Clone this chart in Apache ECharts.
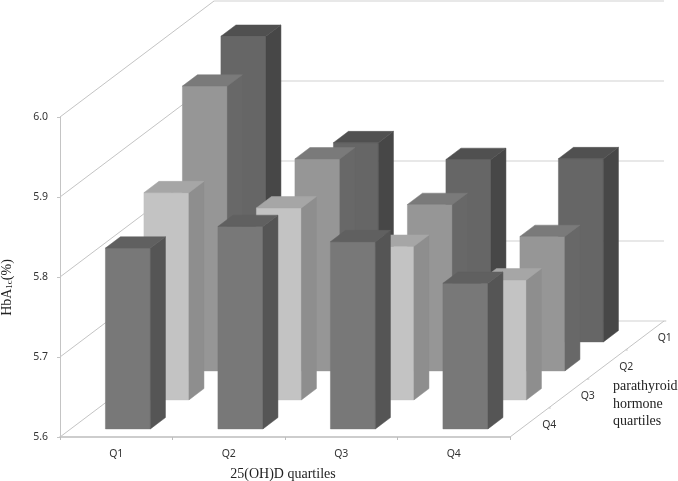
<!DOCTYPE html>
<html><head><meta charset="utf-8">
<style>html,body{margin:0;padding:0;background:#fff}#c{width:678px;height:481px}</style>
<script src="https://cdn.jsdelivr.net/npm/echarts@6/dist/echarts.min.js"></script>
</head><body><div id="c"></div>
<script>
var vitaminCats = ['Q1','Q2','Q3','Q4'];
var pthCats = ['Q1','Q2','Q3','Q4'];
var yTicks = [5.6,5.7,5.8,5.9,6.0];
// HbA1c by 25(OH)D quartile for each parathyroid hormone quartile
var pthQ1 = [5.982,5.849,5.828,5.829];
var pthQ2 = [5.956,5.865,5.808,5.768];
var pthQ3 = [5.859,5.840,5.792,5.750];
var pthQ4 = [5.826,5.853,5.834,5.782];

var rows = [
  {vals:pthQ1, depth:3, face:'#666666', side:'#474747', top:'#505050'},
  {vals:pthQ2, depth:2, face:'#969696', side:'#686868', top:'#7a7a7a'},
  {vals:pthQ3, depth:1, face:'#c3c3c3', side:'#8e8e8e', top:'#a6a6a6'},
  {vals:pthQ4, depth:0, face:'#787878', side:'#555555', top:'#606060'}
];
var SHEAR_X = 38.5/112.5, SHEAR_Y = 29/800;
var BASE = yTicks[0];
function proj(api,c,d,v){ return api.coord([c+d*SHEAR_X, v+d*SHEAR_Y]); }
function poly(pts,color){ return {type:'polygon',shape:{points:pts},style:{fill:color,stroke:color,lineWidth:0.5}}; }
function seg(a,b,color,w){ return {type:'line',shape:{x1:a[0],y1:a[1],x2:b[0],y2:b[1]},style:{stroke:color,lineWidth:w||1,fill:null}}; }

function barSeries(row){
  return {type:'custom',xAxisIndex:1,yAxisIndex:0,silent:true,encode:{x:0,y:1},
    data:row.vals.map(function(v,i){return [i,v];}),
    renderItem:function(p,api){
      var c=api.value(0), v=api.value(1);
      var c0=c+0.308,c1=c+0.708,d0=row.depth+0.28,d1=row.depth+0.67;
      var a=proj(api,c0,d0,BASE),b=proj(api,c1,d0,BASE),
          e=proj(api,c1,d0,v),f=proj(api,c0,d0,v),
          g=proj(api,c1,d1,BASE),h=proj(api,c1,d1,v),k=proj(api,c0,d1,v);
      return {type:'group',children:[
        poly([a,b,e,f],row.face),
        poly([b,g,h,e],row.side),
        poly([f,e,h,k],row.top)
      ]};
    }};
}
var wallSeries = {type:'custom',xAxisIndex:1,yAxisIndex:0,silent:true,encode:{x:0,y:1},
  data:yTicks.map(function(v){return [0,v];}),
  renderItem:function(p,api){
    var v=api.value(1);
    return {type:'group',children:[
      seg(proj(api,0,0,v),proj(api,0,4,v),'#c4c4c4',1),
      seg(proj(api,0,4,v),proj(api,4,4,v),'#d2d2d2',1.2)
    ]};
  }};
var depthSeries = {type:'custom',xAxisIndex:1,yAxisIndex:0,silent:true,encode:{x:0,y:1},
  data:pthCats.map(function(n,i){return [4,BASE,3-i];}),
  renderItem:function(p,api){
    var d=api.value(2), pt=proj(api,4.178,d+0.5,BASE-0.0032);
    var t=proj(api,4,d,BASE), t2=proj(api,4,d+1,BASE), t3=proj(api,4.02,d+1,BASE);
    return {type:'group',children:[
      seg(t,t2,'#c4c4c4',1),
      seg(t2,t3,'#c4c4c4',1),
      {type:'text',x:pt[0],y:pt[1],style:{text:pthCats[3-d],fill:'#333',font:'10.5px "Noto Sans"',align:'center',verticalAlign:'middle'}}
    ]};
  }};

var option={
  animation:false,backgroundColor:'#fff',
  grid:{left:60,right:168,top:117,bottom:44,containLabel:false,outerBoundsMode:'none'},
  xAxis:[
    {type:'category',data:vitaminCats,boundaryGap:true,
     name:'25(OH)D quartiles',nameLocation:'middle',nameGap:30,
     nameTextStyle:{fontFamily:'Liberation Serif',fontSize:14,color:'#222',padding:[0,4,0,0]},
     axisLine:{lineStyle:{color:'#bdbdbd',width:1.5}},
     axisTick:{show:true,length:3,lineStyle:{color:'#bdbdbd'}},
     axisLabel:{fontFamily:'Noto Sans',fontSize:10.5,color:'#333',margin:12},
     splitLine:{show:false}},
    {type:'value',min:0,max:4,show:false,splitLine:{show:false}}
  ],
  yAxis:[{type:'value',min:5.6,max:6.0,interval:0.1,
    name:'{a|HbA}{b|1c}{a|(%)}',nameLocation:'middle',nameGap:46,nameRotate:90,
    nameTextStyle:{padding:[0,21,0,0],rich:{a:{fontFamily:'Liberation Serif',fontSize:14,color:'#222'},
                         b:{fontFamily:'Liberation Serif',fontSize:9,color:'#222',verticalAlign:'bottom'}}},
    axisLine:{show:true,lineStyle:{color:'#c4c4c4'}},
    axisTick:{show:true,length:3,lineStyle:{color:'#c4c4c4'}},
    axisLabel:{fontFamily:'Noto Sans',fontSize:10.5,color:'#333',margin:12,formatter:function(v){return v.toFixed(1);}},
    splitLine:{show:false}}],
  graphic:[{type:'text',left:613,top:378,style:{text:'parathyroid\nhormone\nquartiles',fill:'#222',font:'14px "Liberation Serif"',lineHeight:17.5}}],
  series:[wallSeries,depthSeries].concat(rows.map(barSeries))
};
echarts.init(document.getElementById('c'),null,{renderer:'canvas'}).setOption(option);
</script></body></html>
